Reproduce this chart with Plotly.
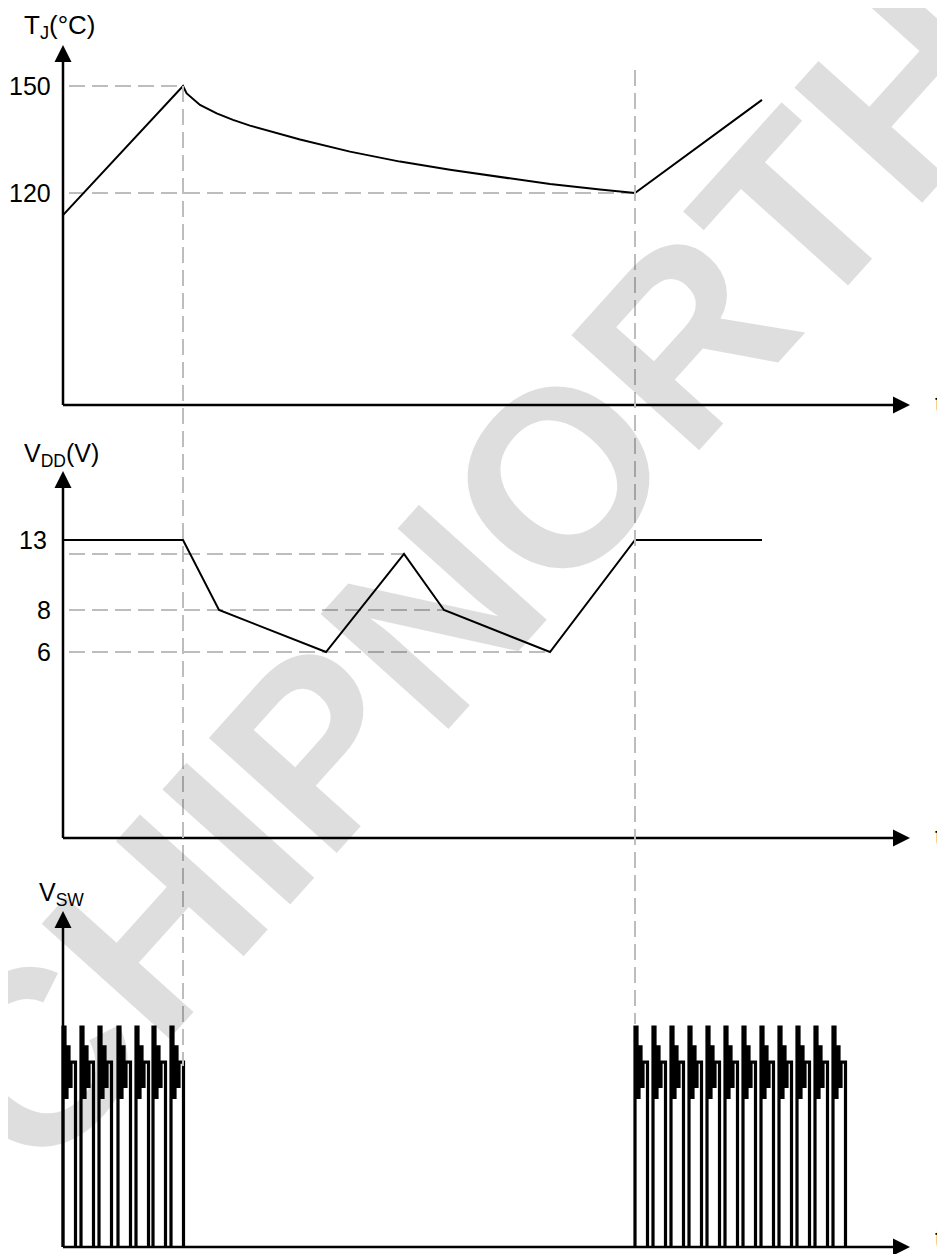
import plotly.graph_objects as go

# ---------------- data ----------------
# time in arbitrary units (0 = start, t1 = over-temperature trip, t2 = restart)
t_events = [120, 572]
t_axis_end = 847

# Junction temperature
tj_time = [0, 120, 123.7, 137, 153.7, 170, 187, 237, 287, 337, 387, 437, 487, 537, 572, 699]
tj_vals = [113.8, 150, 147.9, 144.7, 142.3, 140.5, 138.9, 135.0, 131.6, 128.8, 126.5, 124.4, 122.5, 121.0, 120.0, 146.1]
tj_ticks = [150, 120]

# VDD (schematic levels; label "6" sits at level 5 of the schematic scale)
vdd_time = [0, 120, 156, 263, 341, 381, 487, 572, 699]
vdd_vals = [13, 13, 8, 5, 12, 8, 5, 13, 13]
vdd_tick_vals = [13, 8, 5]
vdd_tick_text = ["13", "8", "6"]
vdd_guide_levels = [12, 8, 5]
vdd_guide_end = [341, 381, 487]

# Switching node pulses
sw_starts_1 = [0, 18, 36, 55, 73, 90, 108]
sw_starts_2 = [572, 590, 608, 626, 644, 662, 680, 698, 716, 734, 752, 770]
pulse_dt = [0, 0, 2, 2, 4, 4, 6, 6, 8, 8, 12.5, 12.5]
pulse_lv = [0, 1.0, 1.0, 0.68, 0.68, 0.91, 0.91, 0.73, 0.73, 0.84, 0.84, 0]

# ---------------- layout helpers ----------------
OFF = 8            # page body margin
FW, FH = 937, 1246  # figure size
X0 = 63             # page pixel of t = 0


def pxx(p):
    return (p - OFF) / FW


def pxy(p):
    return 1 - (p - OFF) / FH


def mk(ptop, pbot, v1, p1, v2, p2):
    k = (v2 - v1) / (p2 - p1)
    f = lambda p: v1 + (p - p1) * k
    return {"range": [f(pbot), f(ptop)], "domain": [max(0, pxy(pbot)), min(1, pxy(ptop))], "px": f}


P1 = mk(8, 430, 150, 86, 120, 193)
P2 = mk(430, 860, 13, 540, 8, 610)
P3 = mk(860, 1254, 0, 1247, 1, 1027)

BLACK = "#000000"
GUIDE = "#bdbdbd"
DASH = "16px,7px"
FONT = "Liberation Sans, Arial, sans-serif"
FS = 25

fig = go.Figure()

# ---------------- guide lines ----------------
for lvl, end in zip(tj_ticks, t_events):
    fig.add_trace(go.Scatter(x=[6, end], y=[lvl, lvl], mode="lines", xaxis="x", yaxis="y",
                             line=dict(color=GUIDE, width=2, dash=DASH), hoverinfo="skip"))
for lvl, end in zip(vdd_guide_levels, vdd_guide_end):
    fig.add_trace(go.Scatter(x=[6, end], y=[lvl, lvl], mode="lines", xaxis="x", yaxis="y2",
                             line=dict(color=GUIDE, width=2, dash=DASH), hoverinfo="skip"))

# vertical event lines spanning panels
fig.add_shape(type="line", xref="x", yref="paper", x0=t_events[0], x1=t_events[0],
              y0=pxy(86), y1=pxy(1066), line=dict(color=GUIDE, width=2, dash=DASH))
fig.add_shape(type="line", xref="x", yref="paper", x0=t_events[1], x1=t_events[1],
              y0=pxy(70), y1=pxy(1024), line=dict(color=GUIDE, width=2, dash=DASH))

# ---------------- signals ----------------
fig.add_trace(go.Scatter(x=tj_time, y=tj_vals, mode="lines", xaxis="x", yaxis="y",
                         line=dict(color=BLACK, width=2), hoverinfo="skip"))
fig.add_trace(go.Scatter(x=vdd_time, y=vdd_vals, mode="lines", xaxis="x", yaxis="y2",
                         line=dict(color=BLACK, width=2), hoverinfo="skip"))

sx, sy = [], []
for s in sw_starts_1 + sw_starts_2:
    for dt, lv in zip(pulse_dt, pulse_lv):
        sx.append(s + dt)
        sy.append(lv)
    sx.append(None)
    sy.append(None)
fig.add_trace(go.Scatter(x=sx, y=sy, mode="lines", xaxis="x", yaxis="y3",
                         line=dict(color=BLACK, width=3.2), hoverinfo="skip"))

# ---------------- axes with arrow heads ----------------
annots = []
for yref, P, base_px, tip_px in [("y", P1, 405, 45), ("y2", P2, 838, 471), ("y3", P3, 1247, 911)]:
    base = P["px"](base_px)
    tip = P["px"](tip_px)
    fig.add_trace(go.Scatter(x=[0, 0], y=[base, P["px"](tip_px + 10)], mode="lines", xaxis="x", yaxis=yref,
                             line=dict(color=BLACK, width=2.5), hoverinfo="skip"))
    fig.add_trace(go.Scatter(x=[0, t_axis_end - 10], y=[base, base], mode="lines", xaxis="x", yaxis=yref,
                             line=dict(color=BLACK, width=2.5), hoverinfo="skip"))
    fig.add_trace(go.Scatter(x=[0], y=[tip], mode="markers", xaxis="x", yaxis=yref,
                             marker=dict(symbol="arrow-up", size=17, color=BLACK, line=dict(width=0)),
                             hoverinfo="skip", cliponaxis=False))
    fig.add_trace(go.Scatter(x=[t_axis_end], y=[base], mode="markers", xaxis="x", yaxis=yref,
                             marker=dict(symbol="arrow-right", size=17, color=BLACK, line=dict(width=0)),
                             hoverinfo="skip", cliponaxis=False))
    if base_px < 1200:
        annots.append(dict(x=pxx(938), y=pxy(base_px - 2), xref="paper", yref="paper", text="t",
                           showarrow=False, xanchor="center", yanchor="middle",
                           font=dict(size=FS, color=BLACK, family=FONT)))
    else:
        annots.append(dict(x=pxx(938), y=0, xref="paper", yref="paper", text="t",
                           showarrow=False, xanchor="center", yanchor="bottom",
                           font=dict(size=FS, color=BLACK, family=FONT)))

# tick labels
for v in tj_ticks:
    annots.append(dict(x=pxx(53), y=v, xref="paper", yref="y", text=str(v), showarrow=False,
                       xanchor="right", yanchor="middle", font=dict(size=FS, color=BLACK, family=FONT)))
for v, t in zip(vdd_tick_vals, vdd_tick_text):
    annots.append(dict(x=pxx(49 if len(t) > 1 else 53), y=v, xref="paper", yref="y2", text=t,
                       showarrow=False, xanchor="right", yanchor="middle",
                       font=dict(size=FS, color=BLACK, family=FONT)))

# axis titles
annots.append(dict(x=pxx(22), y=1, xref="paper", yref="paper", text="T<sub>J</sub>(°C)",
                   showarrow=False, xanchor="left", yanchor="top",
                   font=dict(size=26, color=BLACK, family=FONT)))
annots.append(dict(x=pxx(22), y=pxy(455), xref="paper", yref="paper", text="V<sub>DD</sub>(V)",
                   showarrow=False, xanchor="left", yanchor="middle",
                   font=dict(size=FS, color=BLACK, family=FONT)))
annots.append(dict(x=pxx(37), y=pxy(894), xref="paper", yref="paper", text="V<sub>SW</sub>",
                   showarrow=False, xanchor="left", yanchor="middle",
                   font=dict(size=FS, color=BLACK, family=FONT)))

# watermark
annots.append(dict(x=pxx(470), y=pxy(575), xref="paper", yref="paper", text="CHIPNORTH",
                   showarrow=False, xanchor="center", yanchor="middle", textangle=-48,
                   font=dict(size=250, color="rgba(0,0,0,0.13)", family=FONT, weight="bold")))

hidden = dict(visible=False, showgrid=False, zeroline=False, fixedrange=True)
fig.update_layout(
    width=FW, height=FH,
    margin=dict(l=0, r=0, t=0, b=0),
    paper_bgcolor="white", plot_bgcolor="white",
    showlegend=False,
    xaxis=dict(range=[OFF - X0, OFF - X0 + FW], domain=[0, 1], anchor="y", **hidden),
    yaxis=dict(range=P1["range"], domain=P1["domain"], anchor="x", **hidden),
    yaxis2=dict(range=P2["range"], domain=P2["domain"], anchor="x", **hidden),
    yaxis3=dict(range=P3["range"], domain=P3["domain"], anchor="x", **hidden),
    annotations=annots,
)

fig.write_html("out.html")
